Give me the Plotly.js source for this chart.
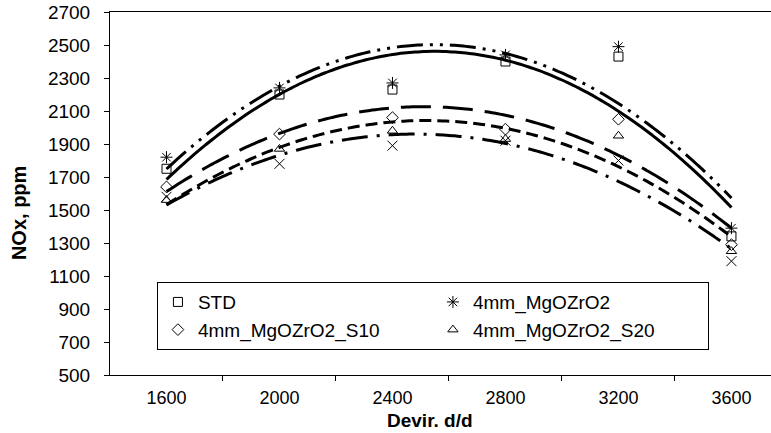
<!DOCTYPE html>
<html>
<head>
<meta charset="utf-8">
<script src="https://cdn.plot.ly/plotly-3.0.1.min.js"></script>
<style>html,body{margin:0;padding:0;background:#fff;}#chart{width:771px;height:433px;}</style>
</head>
<body>
<div id="chart"></div>
<script>
// Data
var rpm = [1600, 2000, 2400, 2800, 3200, 3600];
var stdNOx = [1750, 2200, 2230, 2400, 2430, 1340];
var mgoNOx = [1820, 2240, 2270, 2440, 2490, 1390];
var s10NOx = [1640, 1960, 2060, 1990, 2050, 1290];
var s20NOx = [1560, 1870, 1980, 1930, 1950, 1250];
var s30NOx = [1580, 1780, 1890, 1920, 1800, 1190];
var seriesNames = ['STD', '4mm_MgOZrO2', '4mm_MgOZrO2_S10', '4mm_MgOZrO2_S20', '4mm_MgOZrO2_S30'];
var xTickLabels = ['1600', '2000', '2400', '2800', '3200', '3600'];

// 2nd-order polynomial trendline (least squares), like Excel's trendline
function polyFit2(xs, ys) {
  var n = xs.length, s = [0,0,0,0,0], t = [0,0,0];
  var x0 = 2600, k = 400;
  for (var i = 0; i < n; i++) {
    var u = (xs[i] - x0) / k, p = 1;
    for (var j = 0; j < 5; j++) { s[j] += p; if (j < 3) t[j] += p * ys[i]; p *= u; }
  }
  var M = [[s[0], s[1], s[2], t[0]], [s[1], s[2], s[3], t[1]], [s[2], s[3], s[4], t[2]]];
  for (var c = 0; c < 3; c++) {
    for (var r = c + 1; r < 3; r++) {
      var f = M[r][c] / M[c][c];
      for (var q = c; q < 4; q++) M[r][q] -= f * M[c][q];
    }
  }
  var co = [0,0,0];
  for (var r2 = 2; r2 >= 0; r2--) {
    var v = M[r2][3];
    for (var q2 = r2 + 1; q2 < 3; q2++) v -= M[r2][q2] * co[q2];
    co[r2] = v / M[r2][r2];
  }
  var lx = [], ly = [];
  for (var xx = xs[0]; xx <= xs[n - 1] + 0.001; xx += 20) {
    var uu = (xx - x0) / k;
    lx.push(xx); ly.push(co[0] + co[1] * uu + co[2] * uu * uu);
  }
  return {x: lx, y: ly};
}

var allY = [stdNOx, mgoNOx, s10NOx, s20NOx, s30NOx];
var symbols = ['square-open', 'asterisk-open', 'diamond-open', 'triangle-up-open', 'x-thin-open'];
var sizes = [9, 10, 9, 9, 10];
var dashes = ['solid', '26px,7px,3px,7px,3px,7px', '30px,12px', '12px,6px', '26px,9px,3px,9px'];
var FONT = 'Liberation Sans, Arial, sans-serif';

var traces = [];
for (var i = 0; i < allY.length; i++) {
  traces.push({
    x: rpm, y: allY[i], name: seriesNames[i], type: 'scatter', mode: 'markers',
    showlegend: i < 4,
    marker: {symbol: symbols[i], size: sizes[i], color: 'black', line: {color: 'black', width: 1}}
  });
}
for (var i2 = 0; i2 < allY.length; i2++) {
  var fit = polyFit2(rpm, allY[i2]);
  traces.push({
    x: fit.x, y: fit.y, type: 'scatter', mode: 'lines', showlegend: false, hoverinfo: 'skip',
    line: {color: 'black', width: 3, dash: dashes[i2], shape: 'spline'}
  });
}

var layout = {
  width: 771, height: 433,
  margin: {l: 110, r: 0, t: 12, b: 58},
  paper_bgcolor: 'white', plot_bgcolor: 'white',
  font: {family: FONT, size: 18, color: 'black'},
  showlegend: true,
  legend: {
    orientation: 'h', x: 0.071, y: 0.256, xanchor: 'left', yanchor: 'top',
    bordercolor: 'black', borderwidth: 1, bgcolor: 'white',
    font: {family: FONT, size: 19, color: 'black'},
    entrywidth: 230, itemsizing: 'trace', tracegroupgap: 0
  },
  xaxis: {
    range: [1400, 3740], tickmode: 'array', tickvals: rpm, ticktext: xTickLabels,
    ticks: '', showgrid: false, zeroline: false, showline: true, linecolor: 'black', linewidth: 1,
    mirror: true, ticklabelstandoff: 6, tickfont: {family: FONT, size: 18, color: 'black'},
    minor: {ticks: 'outside', ticklen: 5, tickwidth: 1, tickcolor: 'black', tickmode: 'array',
            tickvals: [1800, 2200, 2600, 3000, 3400], showgrid: false}
  },
  yaxis: {
    range: [500, 2700], dtick: 200, tick0: 500, ticks: 'outside', ticklen: 5, tickcolor: 'black',
    showgrid: false, zeroline: false, showline: true, linecolor: 'black', linewidth: 1,
    ticklabelstandoff: 10, tickfont: {family: FONT, size: 19, color: 'black'}
  },
  annotations: [
    {text: '<b>NOx, ppm</b>', xref: 'paper', yref: 'paper', x: -0.1377, y: 0.446,
     xanchor: 'center', yanchor: 'middle',
     textangle: -90, showarrow: false, font: {family: FONT, size: 20, color: 'black'}},
    {text: '<b>Devir. d/d</b>', xref: 'paper', yref: 'paper', x: 0.484, y: -0.124,
     xanchor: 'center', yanchor: 'middle',
     showarrow: false, font: {family: FONT, size: 19, color: 'black'}}
  ]
};

Plotly.newPlot('chart', traces, layout, {displayModeBar: false, staticPlot: true});
</script>
</body>
</html>
